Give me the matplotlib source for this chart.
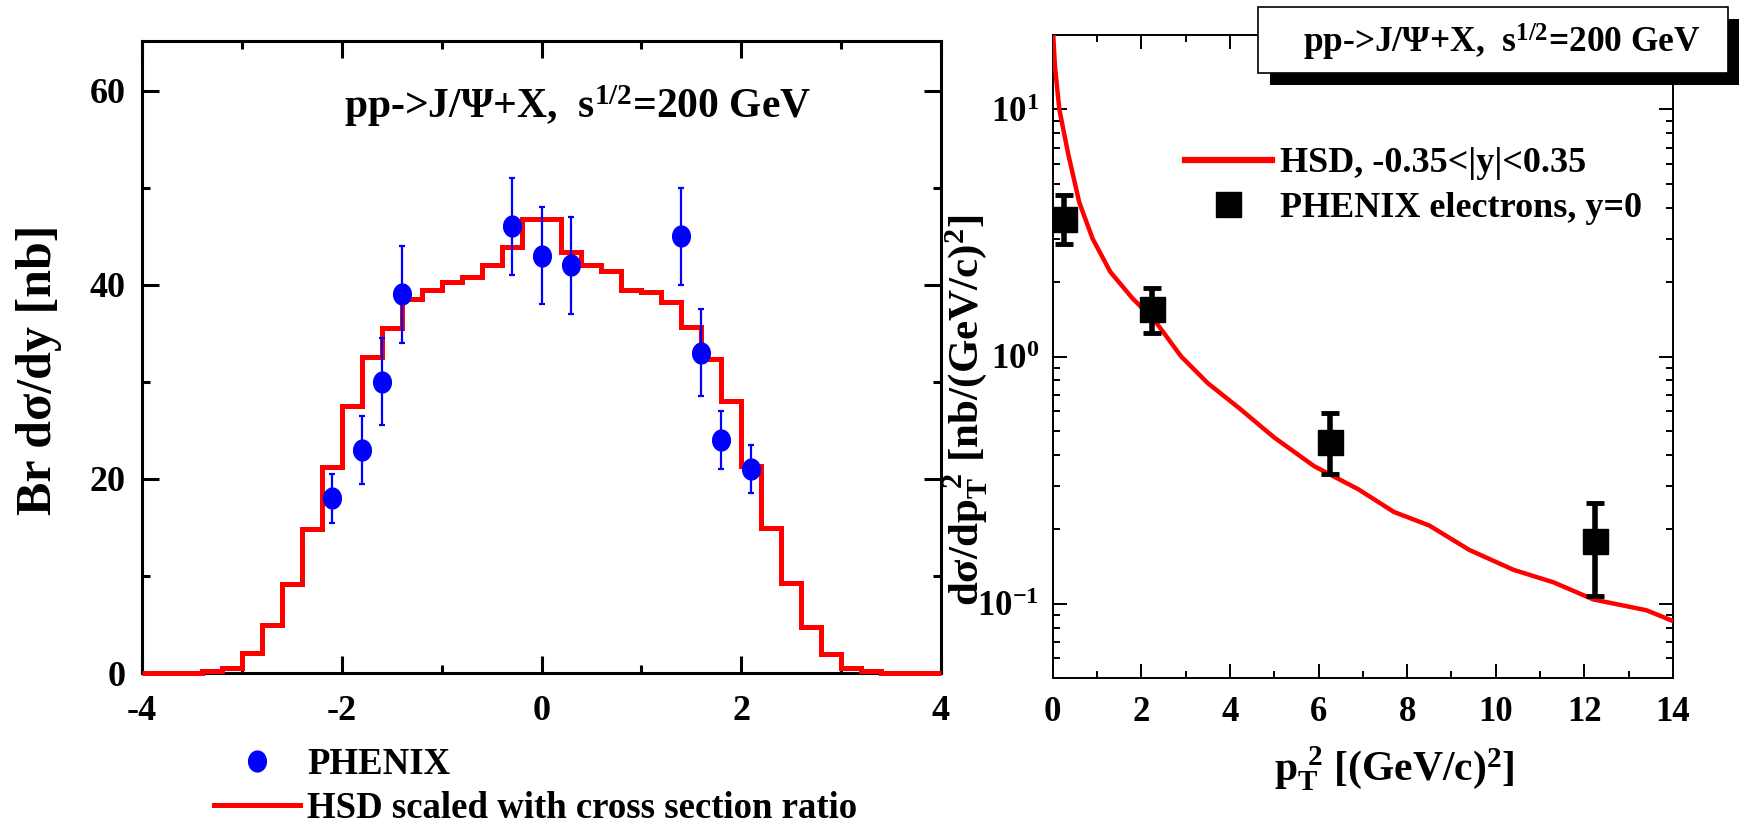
import numpy as np
import matplotlib
matplotlib.use("Agg")
import matplotlib.pyplot as plt
from matplotlib.patches import Rectangle
from matplotlib.lines import Line2D

plt.rcParams['font.family'] = ['Liberation Serif', 'DejaVu Serif']
plt.rcParams['font.weight'] = 'bold'
plt.rcParams['axes.unicode_minus'] = False

# left panel: rapidity distribution
hsd_edges = np.round(np.arange(-4.0, 4.0001, 0.2), 2)
hsd_dndy = [0, 0, 0, 0.2, 0.55, 2.1, 4.9, 9.2, 14.8, 21.2,
            27.5, 32.5, 35.5, 38.5, 39.5, 40.3, 40.8, 42.0, 43.9, 46.8,
            46.8, 43.4, 42.0, 41.4, 39.5, 39.2, 38.2, 35.6, 32.3, 28.0,
            21.3, 14.9, 9.3, 4.7, 2.0, 0.55, 0.2, 0, 0, 0]
phenix_y = [-2.1, -1.8, -1.6, -1.4, -0.3, 0.0, 0.3, 1.4, 1.6, 1.8, 2.1]
phenix_dndy = [18, 23, 30, 39, 46, 43, 42, 45, 33, 24, 21]
phenix_dndy_err = [2.5, 3.5, 4.5, 5, 5, 5, 5, 5, 4.5, 3, 2.5]

# right panel: pT^2 spectrum
hsd_pt2 = [0.0, 0.05, 0.15, 0.35, 0.6, 0.9, 1.3, 1.8, 2.3, 2.9, 3.5, 4.2,
           5.0, 5.9, 6.9, 7.7, 8.5, 9.4, 10.4, 11.3, 12.2, 13.4, 14.0]
hsd_dsig = [22, 15, 10.0, 6.6, 4.2, 3.0, 2.2, 1.72, 1.40, 1.0, 0.78, 0.62,
            0.47, 0.36, 0.29, 0.235, 0.207, 0.165, 0.137, 0.122, 0.104, 0.094, 0.085]
phe_pt2 = [0.25, 2.25, 6.25, 12.25]
phe_dsig = [3.6, 1.55, 0.45, 0.18]
phe_err_hi = [4.5, 1.9, 0.59, 0.255]
phe_err_lo = [2.85, 1.25, 0.335, 0.107]

title = 'pp->J/Ψ+X,  $\\mathregular{s^{1/2}}$=200 GeV'

W, H = 1739, 826
fig = plt.figure(figsize=(W / 100, H / 100), dpi=100)

# ---- left panel
ax1 = fig.add_axes([142 / W, 1 - 673 / H, 799 / W, 632 / H])
ax1.stairs(hsd_dndy, hsd_edges, color='#ff0000', lw=3.6, zorder=3, clip_on=False)
theta = np.linspace(0, 2 * np.pi, 60)
ellipse = np.column_stack([0.85 * np.cos(theta), np.sin(theta)])
ax1.errorbar(phenix_y, phenix_dndy, yerr=phenix_dndy_err, fmt='none',
             ecolor='#0000ff', elinewidth=1.6, capsize=2.5, capthick=1.6, zorder=4)
ax1.plot(phenix_y, phenix_dndy, ls='none', marker=ellipse, ms=15, color='#0000ff', zorder=5)
ax1.set_xlim(-4, 4)
ax1.set_ylim(0, 65.1)
ax1.set_xticks([-4, -2, 0, 2, 4])
ax1.set_xticks([-3, -1, 1, 3], minor=True)
ax1.set_yticks([0, 20, 40, 60])
ax1.set_yticks([10, 30, 50], minor=True)
ax1.tick_params(which='both', direction='in', top=True, right=True, width=2.2,
                labelsize=26)
ax1.tick_params(which='major', length=12)
ax1.tick_params(which='minor', length=6)
ax1.tick_params(axis='y', pad=12)
ax1.tick_params(axis='x', pad=16)
for s in ax1.spines.values():
    s.set_linewidth(2.2)
ax1.text(0.36, 58.4, title, ha='center', va='center', fontsize=30)
fig.text(39 / W, 1 - 370 / H, 'Br dσ/dy [nb]', rotation=90, ha='center',
         va='center', fontsize=36)

hsd_handle = Line2D([], [], color='#ff0000', lw=3.6)
phe_handle = Line2D([], [], ls='none', marker=ellipse, ms=15, color='#0000ff')
fig.legend([phe_handle, hsd_handle], ['PHENIX', 'HSD scaled with cross section ratio'],
           loc='upper left', bbox_to_anchor=(214 / W, 1 - 747 / H), frameon=False,
           fontsize=26.5, handlelength=2.34, handletextpad=0.19, labelspacing=0.25,
           borderpad=0, borderaxespad=0)

# ---- right panel
ax2 = fig.add_axes([1052.7 / W, 1 - 678 / H, 620.3 / W, 643 / H])
ax2.plot(hsd_pt2, hsd_dsig, color='#ff0000', lw=3.2, zorder=3)
yerr = [np.array(phe_dsig) - np.array(phe_err_lo), np.array(phe_err_hi) - np.array(phe_dsig)]
ax2.errorbar(phe_pt2, phe_dsig, yerr=yerr, fmt='s', color='black', ms=18,
             elinewidth=4, capsize=6.5, capthick=3.5, zorder=4)
ax2.set_yscale('log')
ax2.set_xlim(0, 14)
ax2.set_ylim(0.05, 20)
ax2.set_xticks(np.arange(0, 15, 2))
ax2.set_xticks(np.arange(1, 14, 2), minor=True)
ax2.set_yticks([0.1, 1, 10])
ax2.set_yticklabels(['$\\mathregular{10^{-1}}$', '$\\mathregular{10^{0}}$',
                     '$\\mathregular{10^{1}}$'])
ax2.tick_params(which='both', direction='in', top=True, right=True, width=1.4,
                labelsize=25)
ax2.tick_params(which='major', length=10)
ax2.tick_params(which='minor', length=5)
ax2.tick_params(axis='y', which='minor', labelleft=False)
ax2.tick_params(axis='y', pad=10)
ax2.tick_params(axis='x', pad=13)
for s in ax2.spines.values():
    s.set_linewidth(1.4)
fig.text(966 / W, 1 - 410 / H, 'dσ/dp$\\mathregular{_T^{\\ 2}}$ [nb/(GeV/c)$\\mathregular{^2}$]',
         rotation=90, ha='center', va='center', fontsize=31)
fig.text(1394 / W, 1 - 768 / H, 'p$\\mathregular{_T^{\\ 2}}$ [(GeV/c)$\\mathregular{^2}$]',
         ha='center', va='center', fontsize=30)

hsd2_handle = Line2D([], [], color='#ff0000', lw=4.5)
phe2_handle = Line2D([], [], ls='none', marker='s', ms=18, color='black')
ax2.legend([hsd2_handle, phe2_handle], ['HSD, -0.35<|y|<0.35', 'PHENIX electrons, y=0'],
           loc='upper left', bbox_to_anchor=((1185 - 1052.7) / 620.3, 1 - (147 - 35) / 643),
           frameon=False, fontsize=26, handlelength=2.4, handletextpad=0.22,
           labelspacing=0.32, borderpad=0, borderaxespad=0)

# title box with shadow on the right panel
fig.add_artist(Rectangle((1270 / W, 1 - 85 / H), 470 / W, 66 / H, transform=fig.transFigure,
                         facecolor='black', edgecolor='none', zorder=5))
fig.add_artist(Rectangle((1258 / W, 1 - 73 / H), 470 / W, 66 / H, transform=fig.transFigure,
                         facecolor='white', edgecolor='black', lw=1.2, zorder=6))
fig.text(1502 / W, 1 - 42 / H, title, ha='center', va='center', fontsize=25.5, zorder=7)

fig.savefig('out.png', dpi=100)
